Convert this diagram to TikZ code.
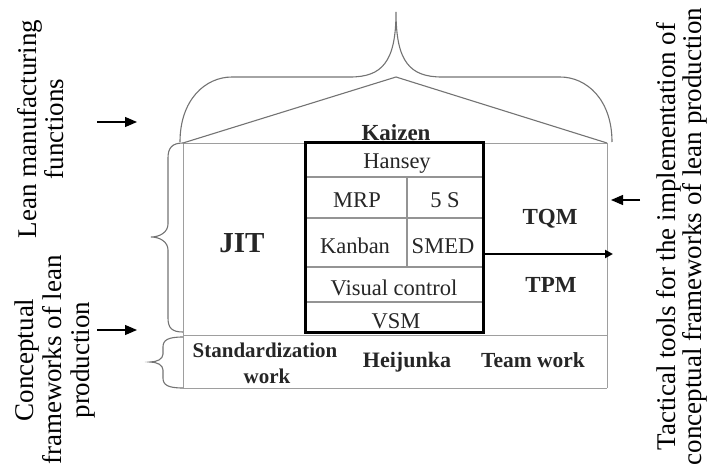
\documentclass[tikz,border=0pt]{standalone}
\usepackage{fontspec}
\setmainfont{Liberation Serif}
\usetikzlibrary{arrows.meta}
\begin{document}
\begin{tikzpicture}[x=1pt,y=-1pt,
  grid/.style={draw=black!38, line width=0.9pt},
  divider/.style={draw=black!42, line width=1.2pt},
  curly/.style={draw=black!55, line width=1.1pt},
  cell/.style={inner sep=0pt, anchor=base, text=black!85, font=\fontsize{22.5}{26}\selectfont},
  head/.style={inner sep=0pt, anchor=base, text=black!85, font=\fontsize{23}{27}\selectfont\bfseries},
  side/.style={inner sep=0pt, rotate=90, align=center},
  pointer/.style={line width=1.3pt, -{Triangle[length=12pt,width=10pt]}},
]
\useasboundingbox (0,0) rectangle (712,468);

% outer frame of the house
\draw[grid] (183,143) -- (607,143)
            (183,143) -- (183,388)
            (607,143) -- (607,388)
            (183,335) -- (607,335)
            (183,388) -- (607,388);

% roof and the brace above it
\draw[curly] (183,143) -- (396,77) -- (607,143);
\draw[curly] (180,142) .. controls (180,100) and (205,77) .. (232,77) -- (350,77)
   .. controls (382,77) and (396,62) .. (396,12)
   .. controls (396,62) and (410,77) .. (442,77) -- (560,77)
   .. controls (587,77) and (612,100) .. (612,142);

% braces on the left
\draw[curly] (183,143) .. controls (172,143) and (168,148) .. (168,158) -- (168,224)
   .. controls (168,232) and (160,237) .. (151,237)
   .. controls (160,237) and (168,242) .. (168,250) -- (168,318)
   .. controls (168,328) and (172,332) .. (183,332);
\draw[curly] (183,337) .. controls (168,337) and (163,340) .. (163,347) -- (163,354)
   .. controls (163,359) and (157,362) .. (150,362)
   .. controls (157,362) and (163,365) .. (163,370) -- (163,378)
   .. controls (163,385) and (168,388) .. (183,388);

% tool cells inside the central block
\draw[divider] (305,177) -- (483,177)
               (305,218) -- (483,218)
               (305,267) -- (483,267)
               (305,302) -- (483,302)
               (407,177) -- (407,267);
\node[draw, line width=3pt, minimum width=178pt, minimum height=189pt, inner sep=0pt]
  (tools) at (394,237.5) {};

\node[cell] (hansey) at (397,168) {Hansey};
\node[cell] (mrp)    at (357,207) {MRP};
\node[cell] (fives)  at (445,207) {5 S};
\node[cell] (kanban) at (355,253) {Kanban};
\node[cell] (smed)   at (443,253) {SMED};
\node[cell] (visual) at (394,295) {Visual control};
\node[cell] (vsm)    at (396,328) {VSM};

% pillars, roof label and foundation
\node[head] (kaizen) at (396,140) {Kaizen};
\node[head, font=\fontsize{29}{32}\selectfont\bfseries] (jit) at (242,252) {JIT};
\node[head] (tqm) at (550,224) {TQM};
\node[head] (tpm) at (551,292) {TPM};
\node[head, font=\fontsize{21}{26}\selectfont\bfseries] (std1) at (265,357) {Standardization};
\node[head, font=\fontsize{21}{26}\selectfont\bfseries] (std2) at (267,383) {work};
\node[head, font=\fontsize{22}{26}\selectfont\bfseries] (heij) at (407,367) {Heijunka};
\node[head, font=\fontsize{21.5}{26}\selectfont\bfseries] (team) at (533,367) {Team work};

% arrow leaving the tool block
\coordinate (outtip) at (613,254);
\draw[line width=2.4pt, -{Triangle[length=8pt,width=8pt]}] (tools.east |- outtip) -- (outtip);

% side captions
\node[side, font=\fontsize{27}{27.5}\selectfont] (lmf) at (40.5,129)
  {Lean manufacturing\\functions};
\node[side, font=\fontsize{27}{28}\selectfont] (cfl) at (54.8,360)
  {Conceptual\\frameworks of lean\\production};
\node[side, font=\fontsize{27}{26.5}\selectfont] (tt) at (681.7,236.5)
  {Tactical tools for the implementation of\\conceptual frameworks of lean production};

% pointers from the captions
\coordinate (p1s) at (97,122);  \coordinate (p1e) at (137,122);
\coordinate (p2s) at (97,330);  \coordinate (p2e) at (137,330);
\coordinate (p3s) at (640,200); \coordinate (p3e) at (611,200);
\draw[pointer] (p1s) -- (p1e);
\draw[pointer] (p2s) -- (p2e);
\draw[pointer] (p3s) -- (p3e);
\end{tikzpicture}
\end{document}
